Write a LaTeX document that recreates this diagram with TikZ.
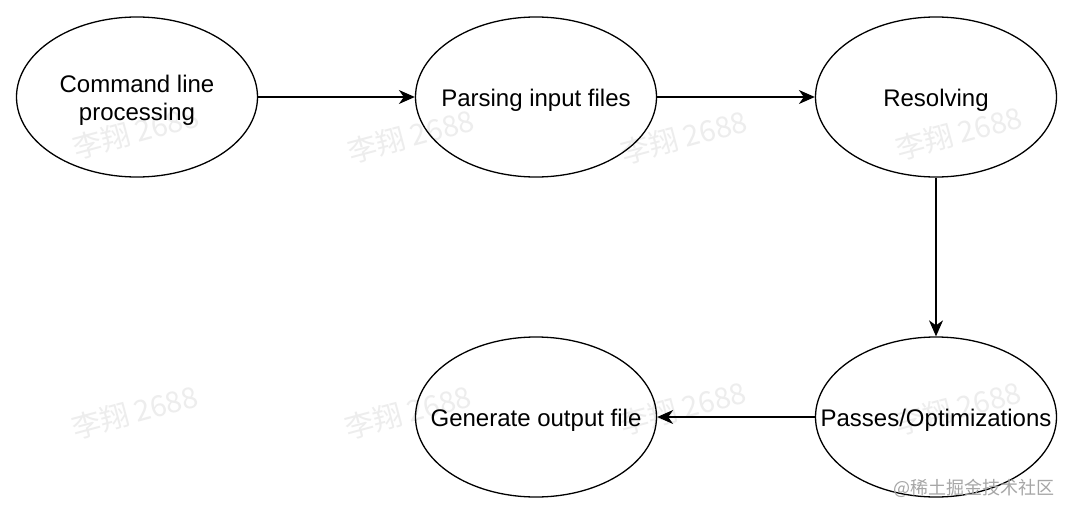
\documentclass[tikz,border=0pt]{standalone}
\usepackage{fontspec}
\setmainfont{Liberation Sans}
\newfontfamily\cjkfont{Noto Sans CJK SC}
\usetikzlibrary{shapes.geometric,arrows.meta}
\begin{document}
\begin{tikzpicture}[x=1pt,y=-1pt,
  stage/.style={draw=black,line width=1.3pt,ellipse,minimum width=241pt,minimum height=160pt,inner sep=0pt},
  stagetext/.style={font=\fontsize{24}{28}\selectfont,align=center,inner sep=0pt,yshift=-3pt},
  flow/.style={line width=1.3pt,-{Stealth[length=16pt,width=14pt,inset=5pt]}},
  wmark/.style={text=black!7,font=\fontsize{29}{31}\selectfont\cjkfont,rotate=15}]
\useasboundingbox[fill=white] (0,0) rectangle (1074,514);
% watermarks
\node[wmark] (w1) at (136,132) {李翔 2688};
\node[wmark] (w2) at (411,136) {李翔 2688};
\node[wmark] (w3) at (684,137) {李翔 2688};
\node[wmark] (w4) at (959,133) {李翔 2688};
\node[wmark] (w5) at (135,412) {李翔 2688};
\node[wmark] (w6) at (408,412) {李翔 2688};
\node[wmark] (w7) at (683,408) {李翔 2688};
\node[wmark] (w8) at (958,408) {李翔 2688};
% stages
\node[stage] (cmd) at (137,97) {};
\node[stage] (parse) at (536,97) {};
\node[stage] (resolve) at (936,97) {};
\node[stage] (passes) at (936,417) {};
\node[stage] (gen) at (536,417) {};
\node[stagetext] (tcmd) at (cmd.center) {Command line\\processing};
\node[stagetext] (tparse) at (parse.center) {Parsing input files};
\node[stagetext] (tresolve) at (resolve.center) {Resolving};
\node[stagetext] (tpasses) at (passes.center) {Passes/Optimizations};
\node[stagetext] (tgen) at (gen.center) {Generate output file};
\draw[flow] (cmd) -- (parse);
\draw[flow] (parse) -- (resolve);
\draw[flow] (resolve) -- (passes);
\draw[flow] (passes) -- (gen);
\node[text=black!35,font=\fontsize{18}{20}\selectfont\cjkfont,anchor=east] (site) at (1058,488) {@稀土掘金技术社区};
\end{tikzpicture}
\end{document}
